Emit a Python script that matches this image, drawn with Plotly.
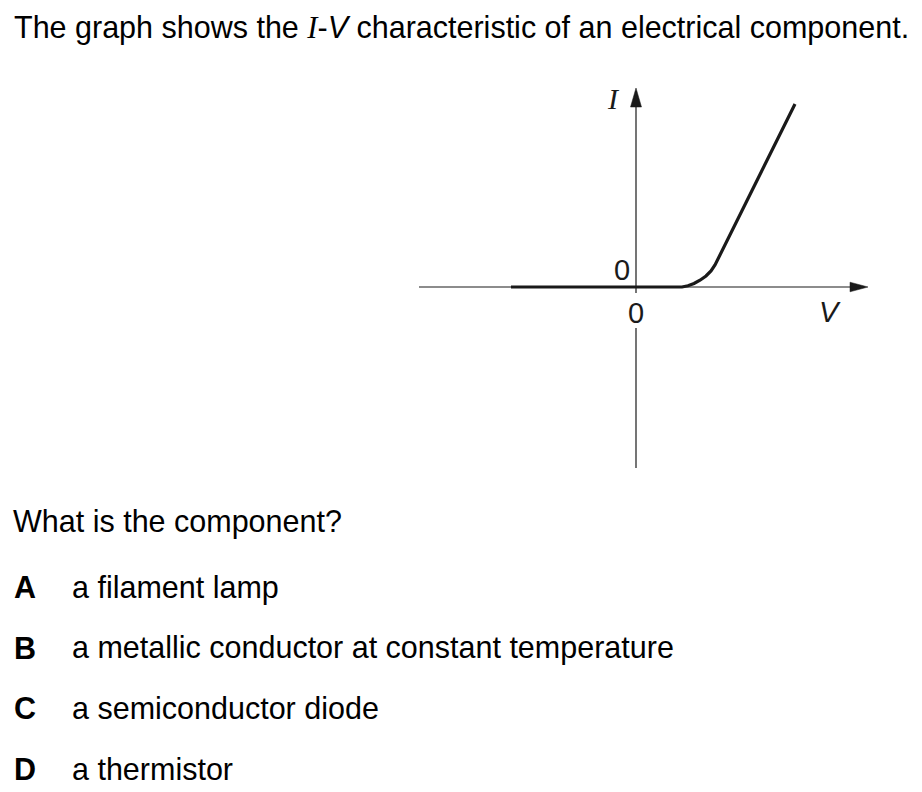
import plotly.graph_objects as go

# ---- data (arbitrary units: V to the right, I upward) ----
V_curve = [-12.5, 4.6, 5.2, 5.8, 6.4, 7.0, 7.5, 7.9, 15.9]
I_curve = [0.0, 0.0, 0.12, 0.35, 0.68, 1.1, 1.6, 2.2, 18.3]

V_axis_ext = [-21.7, 23.2]      # horizontal axis extent (arrow tip at right)
I_axis_ext = [-18.1, 19.9]      # vertical axis extent (arrow tip at top)
I_axis_gap = [-0.6, -4.1]       # gap for the lower "0" label

title_text = ('The graph shows the <i><span style="font-family:Liberation Serif">I</span></i>'
              '-<i>V</i> characteristic of an electrical component.')
question_text = "What is the component?"
option_letters = ["A", "B", "C", "D"]
option_texts = ["a filament lamp",
                "a metallic conductor at constant temperature",
                "a semiconductor diode",
                "a thermistor"]

# page is 922x792 with the default 8px body margin before the figure
OFF = 8
W, H = 922 - OFF, 792 - OFF
ink = "#1a1a1a"
sans = "Liberation Sans, Arial, sans-serif"
FS = 30.5

fig = go.Figure()
fig.add_trace(go.Scatter(x=V_curve, y=I_curve, mode="lines",
                         line=dict(color=ink, width=3.2), hoverinfo="skip",
                         showlegend=False))

shapes = [
    dict(type="line", xref="x", yref="y", x0=V_axis_ext[0], x1=V_axis_ext[1] - 1.0,
         y0=0, y1=0, line=dict(color=ink, width=1.2)),
    dict(type="line", xref="x", yref="y", x0=0, x1=0, y0=I_axis_gap[0],
         y1=I_axis_ext[1] - 1.0, line=dict(color=ink, width=1.2)),
    dict(type="line", xref="x", yref="y", x0=0, x1=0, y0=I_axis_ext[0],
         y1=I_axis_gap[1], line=dict(color=ink, width=1.2)),
]
# arrowheads built from the axis ends
tx = V_axis_ext[1]
shapes.append(dict(type="path", xref="x", yref="y",
                   path=f"M{tx},0 L{tx-1.8},0.48 L{tx-1.8},-0.48 Z",
                   fillcolor=ink, line=dict(color=ink, width=0.5)))
ty = I_axis_ext[1]
shapes.append(dict(type="path", xref="x", yref="y",
                   path=f"M0,{ty} L-0.55,{ty-1.9} L0.55,{ty-1.9} Z",
                   fillcolor=ink, line=dict(color=ink, width=0.5)))

ann = []
# axis labels
ann.append(dict(x=-2.3, y=18.9, xref="x", yref="y", showarrow=False,
                text="<i>I</i>", font=dict(family="Liberation Serif, serif", size=30, color=ink)))
ann.append(dict(x=-1.4, y=1.75, xref="x", yref="y", showarrow=False,
                text="0", font=dict(family=sans, size=29, color=ink)))
ann.append(dict(x=0, y=-2.6, xref="x", yref="y", showarrow=False,
                text="0", font=dict(family=sans, size=29, color=ink)))
ann.append(dict(x=19.4, y=-2.5, xref="x", yref="y", showarrow=False,
                text="<i>V</i>", font=dict(family=sans, size=29, color=ink)))


def px(x, y):
    # x: page pixel where the text should start; y: page pixel of text middle
    return (x - OFF - 3) / W, 1 - (y - OFF) / H


def add_text(x, y, text, bold=False):
    xx, yy = px(x, y)
    ann.append(dict(x=xx, y=yy, xref="paper", yref="paper", xanchor="left",
                    yanchor="middle", showarrow=False,
                    text=f"<b>{text}</b>" if bold else text,
                    font=dict(family=sans, size=FS, color="black")))


add_text(15, 27, title_text)
add_text(14, 521, question_text)
for i, (L, T) in enumerate(zip(option_letters, option_texts)):
    yy = 587 + i * 60.5
    add_text(15, yy, L, bold=True)
    add_text(73, yy, T)

# axis ranges so that the origin sits at page pixel (636, 287), 10 px per unit
x_lo = -(636 - OFF) / 10.0
y_hi = (287 - OFF) / 10.0
fig.update_layout(
    width=W, height=H, margin=dict(l=0, r=0, t=0, b=0),
    paper_bgcolor="white", plot_bgcolor="white",
    xaxis=dict(range=[x_lo, x_lo + W / 10.0], visible=False, fixedrange=True),
    yaxis=dict(range=[y_hi - H / 10.0, y_hi], visible=False, fixedrange=True),
    shapes=shapes, annotations=ann, showlegend=False,
)
fig.write_html("out.html")
